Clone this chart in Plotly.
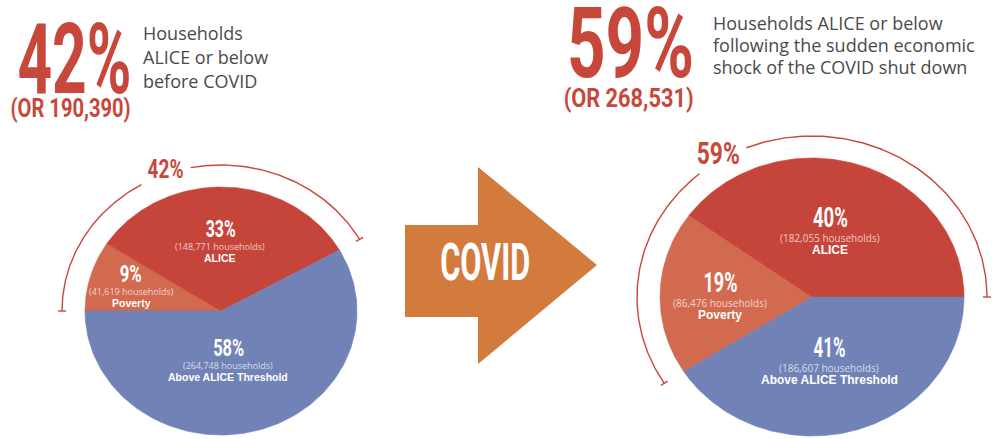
import json
import numpy as np
import plotly.graph_objects as go

# ---------------- data ----------------
categories = ["Poverty", "ALICE", "Above ALICE Threshold"]
before_households = [41619, 148771, 264748]
after_households = [86476, 182055, 186607]
before_pct_labels = ["9%", "33%", "58%"]
after_pct_labels = ["19%", "40%", "41%"]
below_pct_labels = ["42%", "59%"]
below_households_labels = ["190,390", "268,531"]
headline_lines = [
    ["Households", "ALICE or below", "before COVID"],
    ["Households ALICE or below", "following the sudden economic", "shock of the COVID shut down"],
]
arrow_label = "COVID"

# ---------------- style ----------------
SLICE_COLORS = {"Poverty": "#D26A50", "ALICE": "#C6453A", "Above ALICE Threshold": "#7182B6"}
RED = "#C8473B"
ORANGE = "#D37A3D"
GREY = "#4A4A4A"
COND = "Roboto, Liberation Sans, Arial, sans-serif"   # squeezed horizontally below
SANS = "Open Sans, Liberation Sans, Arial, sans-serif"
BOLD = "Liberation Sans, Arial, sans-serif"

pies = [
    dict(values=before_households, pcts=before_pct_labels, cx=221, cy=311, rx=136, ry=124,
         start=180.0, gap=(101, 120), arc_label_xy=(165, 169),
         arc_label_size=25, arc_label_w=36,
         label_xy=[(131, 274), (220, 229), (228, 348)], pct_w=[22, 30, 31], hh_dy=17, name_dy=29,
         pct_size=24, hh_size=9, name_size=10.5),
    dict(values=after_households, pcts=after_pct_labels, cx=812, cy=297, rx=152, ry=139,
         start=None, gap=(112, 130), arc_label_xy=(718, 153),
         arc_label_size=31, arc_label_w=43,
         label_xy=[(720, 283), (830, 218), (829, 348)], pct_w=[34, 35, 32], hh_dy=20, name_dy=32,
         pct_size=27, hh_size=10, name_size=12),
]

fig = go.Figure()
annotations = []
squeeze = {}   # annotation index -> rendered width (px) for condensed display type


def add_ann(width=None, **kw):
    if width is not None:
        squeeze[len(annotations)] = width
    annotations.append(dict(showarrow=False, **kw))


def ell(cx, cy, rx, ry, ang_deg):
    a = np.radians(ang_deg)
    return cx + rx * np.cos(a), cy - ry * np.sin(a)


for i, p in enumerate(pies):
    vals = np.array(p["values"], dtype=float)
    total = vals.sum()
    shares = vals / total
    below_share = shares[0] + shares[1]
    start = p["start"] if p["start"] is not None else 360.0 * below_share
    a0 = start
    for cat, v, sh, pct, (lx, ly), pw in zip(categories, p["values"], shares, p["pcts"],
                                             p["label_xy"], p["pct_w"]):
        a1 = a0 - 360.0 * sh
        angs = np.linspace(a0, a1, 160)
        xs, ys = ell(p["cx"], p["cy"], p["rx"], p["ry"], angs)
        xs = np.concatenate([[p["cx"]], xs, [p["cx"]]])
        ys = np.concatenate([[p["cy"]], ys, [p["cy"]]])
        col = SLICE_COLORS[cat]
        fig.add_trace(go.Scatter(x=xs, y=ys, mode="lines", fill="toself", fillcolor=col,
                                 line=dict(color=col, width=0.6), name=cat,
                                 hoverinfo="text", text=f"{cat}: {v:,} households ({pct})"))
        a0 = a1
        add_ann(width=pw, x=lx, y=ly, text=pct,
                font=dict(family=COND, size=p["pct_size"], color="white", weight="bold"))
        add_ann(x=lx, y=ly + p["hh_dy"], text=f"({v:,} households)",
                font=dict(family=SANS, size=p["hh_size"], color="rgba(255,255,255,0.72)"))
        add_ann(x=lx, y=ly + p["name_dy"], text=f"<b>{cat}</b>",
                font=dict(family=BOLD, size=p["name_size"], color="white"))

    # outer arc spanning the ALICE-or-below share
    arx, ary = p["rx"] + 23, p["ry"] + 22
    arc_start = start
    arc_end = start - 360.0 * below_share
    g_lo, g_hi = p["gap"]
    for s0, s1 in [(arc_start, g_hi), (g_lo, arc_end)]:
        angs = np.linspace(s0, s1, 120)
        xs, ys = ell(p["cx"], p["cy"], arx, ary, angs)
        fig.add_trace(go.Scatter(x=xs, y=ys, mode="lines", line=dict(color=RED, width=1.4),
                                 hoverinfo="skip"))
    for end_ang in (arc_start, arc_end):
        xi, yi = ell(p["cx"], p["cy"], arx - 4, ary - 4, end_ang)
        xo, yo = ell(p["cx"], p["cy"], arx + 4, ary + 4, end_ang)
        fig.add_trace(go.Scatter(x=[xi, xo], y=[yi, yo], mode="lines",
                                 line=dict(color=RED, width=1.4), hoverinfo="skip"))
    ax_, ay_ = p["arc_label_xy"]
    add_ann(width=p["arc_label_w"], x=ax_, y=ay_, text=below_pct_labels[i],
            font=dict(family=COND, size=p["arc_label_size"], color=RED, weight="bold"))

# ---------------- headline text ----------------
big_xy = [(74, 59), (630, 43)]
big_w = [114, 127]
sub_xy = [(70, 108), (628, 98)]
sub_w = [120, 130]
for i in range(2):
    add_ann(width=big_w[i], x=big_xy[i][0], y=big_xy[i][1], text=below_pct_labels[i],
            font=dict(family=COND, size=98, color=RED, weight="bold"))
    add_ann(width=sub_w[i], x=sub_xy[i][0], y=sub_xy[i][1], text=f"(OR {below_households_labels[i]})",
            font=dict(family=COND, size=26, color=RED, weight="bold"))

line_pos = [(141, [33, 57, 81], 18), (711, [23, 45, 67], 18)]
for (x0, ys, sz), lines in zip(line_pos, headline_lines):
    for y, t in zip(ys, lines):
        add_ann(x=x0, y=y, text=t, xanchor="left",
                font=dict(family=SANS, size=sz, color=GREY, weight=500))

# ---------------- arrow ----------------
shapes = [dict(type="path", xref="x", yref="y",
               path="M 405,225 L 478,225 L 478,167 L 597,265 L 478,364 L 478,317 L 405,317 Z",
               fillcolor=ORANGE, line=dict(width=0), layer="below")]
add_ann(width=90, x=485, y=262, text=arrow_label,
        font=dict(family=COND, size=52, color="white", weight="bold"))

fig.update_layout(
    width=1000, height=439, margin=dict(l=0, r=0, t=0, b=0),
    paper_bgcolor="white", plot_bgcolor="white", showlegend=False,
    xaxis=dict(range=[0, 1000], visible=False, fixedrange=True),
    yaxis=dict(range=[439, 0], visible=False, fixedrange=True),
    shapes=shapes, annotations=annotations,
)

# page without body margin; condensed display type: squeeze chosen annotation texts horizontally
post = """
document.body.style.margin = '0';
document.body.style.overflow = 'hidden';
var gd = document.getElementById('{plot_id}');
var targets = TARGETS;
function squeezeText(){
  Object.keys(targets).forEach(function(k){
    var g = gd.querySelector('g.annotation[data-index="' + k + '"]');
    if (!g) return;
    var t = g.querySelector('text.annotation-text');
    if (!t) return;
    t.removeAttribute('transform');
    var b = t.getBBox();
    if (b.width <= 0) return;
    var s = targets[k] / b.width;
    var cx = b.x + b.width / 2;
    t.setAttribute('transform', 'translate(' + cx + ',0) scale(' + s + ',1) translate(' + (-cx) + ',0)');
  });
}
squeezeText();
gd.on('plotly_afterplot', squeezeText);
""".replace("TARGETS", json.dumps({str(k): v for k, v in squeeze.items()}))

fig.write_html("out.html", post_script=post, config={"displayModeBar": False})
